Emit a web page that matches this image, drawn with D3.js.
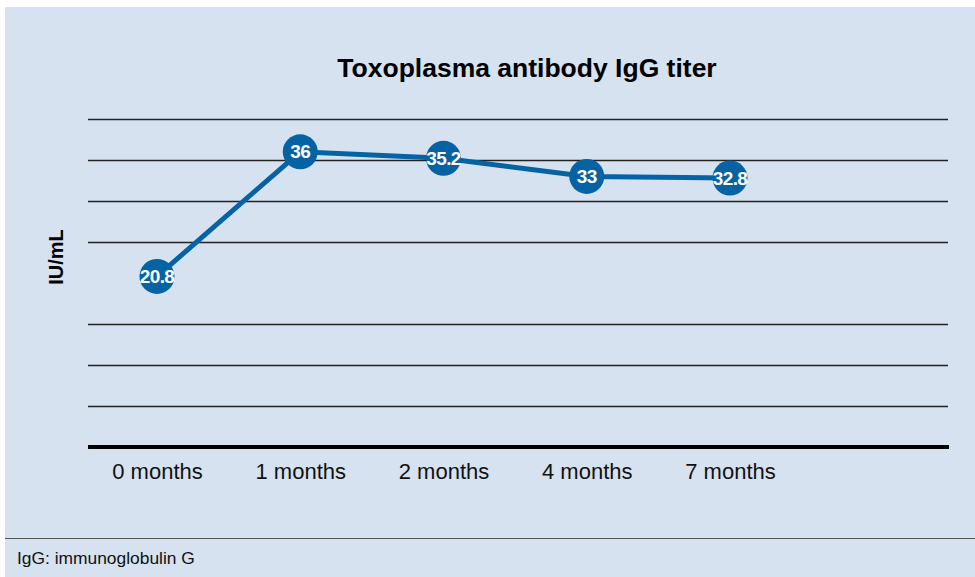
<!DOCTYPE html>
<html>
<head>
<meta charset="utf-8">
<script src="https://cdn.jsdelivr.net/npm/d3@7"></script>
<style>
  body { margin: 0; background: #fff; }
  text { font-family: "Liberation Sans", Arial, Helvetica, sans-serif; }
</style>
</head>
<body>
<div id="chart-area"></div>
<script>
const months = ["0 months", "1 months", "2 months", "4 months", "7 months"]
const titers = [20.8, 36, 35.2, 33, 32.8]
const gridTicks = [5, 10, 15, 25, 30, 35, 40]

const W = 975, H = 577
const PLOT = { LEFT: 88, RIGHT: 948, TOP: 119, BOTTOM: 447 }

const svg = d3.select("#chart-area").append("svg")
  .attr("width", W)
  .attr("height", H)

// panel background
svg.append("rect")
  .attr("x", 5).attr("y", 7)
  .attr("width", W - 5).attr("height", H - 7)
  .attr("fill", "#d6e2f0")

// footer divider + note
svg.append("line")
  .attr("x1", 5).attr("x2", W)
  .attr("y1", 538.5).attr("y2", 538.5)
  .attr("stroke", "#555").attr("stroke-width", 1.2)

svg.append("text")
  .attr("x", 17).attr("y", 564)
  .attr("font-size", "17.4px")
  .attr("fill", "#111")
  .text("IgG: immunoglobulin G")

// title
svg.append("text")
  .attr("x", 527).attr("y", 77)
  .attr("text-anchor", "middle")
  .attr("font-size", "26.5px")
  .attr("font-weight", "bold")
  .attr("fill", "#000")
  .text("Toxoplasma antibody IgG titer")

// y label
svg.append("text")
  .attr("transform", "translate(63, 257) rotate(-90)")
  .attr("text-anchor", "middle")
  .attr("font-size", "20px")
  .attr("font-weight", "bold")
  .attr("fill", "#000")
  .text("IU/mL")

const x = d3.scalePoint()
  .domain(months)
  .range([157, 730])

const y = d3.scaleLinear()
  .domain([0, 40])
  .range([PLOT.BOTTOM, PLOT.TOP])

// gridlines
svg.append("g")
  .selectAll("line")
  .data(gridTicks)
  .join("line")
    .attr("x1", PLOT.LEFT).attr("x2", PLOT.RIGHT)
    .attr("y1", d => Math.round(y(d)) + 0.5)
    .attr("y2", d => Math.round(y(d)) + 0.5)
    .attr("stroke", "#222")
    .attr("stroke-width", 1.5)

// x axis
const xAxis = svg.append("g")
  .attr("transform", `translate(0, ${PLOT.BOTTOM})`)
  .call(d3.axisBottom(x).tickSize(0).tickPadding(0))

xAxis.select(".domain").remove()
xAxis.selectAll("text")
  .attr("dy", null)
  .attr("y", 32)
  .attr("font-size", "22px")
  .attr("fill", "#111")
  .style("font-family", "'Liberation Sans', Arial, sans-serif")

// baseline
svg.append("line")
  .attr("x1", PLOT.LEFT).attr("x2", PLOT.RIGHT + 1)
  .attr("y1", PLOT.BOTTOM).attr("y2", PLOT.BOTTOM)
  .attr("stroke", "#000")
  .attr("stroke-width", 4)

const data = months.map((m, i) => ({ month: m, value: titers[i] }))

// line
svg.append("path")
  .datum(data)
  .attr("fill", "none")
  .attr("stroke", "#0563a3")
  .attr("stroke-width", 5)
  .attr("d", d3.line().x(d => x(d.month)).y(d => y(d.value)))

// points
svg.append("g")
  .selectAll("circle")
  .data(data)
  .join("circle")
    .attr("cx", d => x(d.month))
    .attr("cy", d => y(d.value))
    .attr("r", 17.5)
    .attr("fill", "#0563a3")

svg.append("g")
  .selectAll("text")
  .data(data)
  .join("text")
    .attr("x", d => x(d.month))
    .attr("y", d => y(d.value) + 6.5)
    .attr("text-anchor", "middle")
    .attr("font-size", "19px")
    .attr("font-weight", "bold")
    .attr("letter-spacing", "-0.6px")
    .attr("fill", "#fff")
    .text(d => d.value)
</script>
</body>
</html>
